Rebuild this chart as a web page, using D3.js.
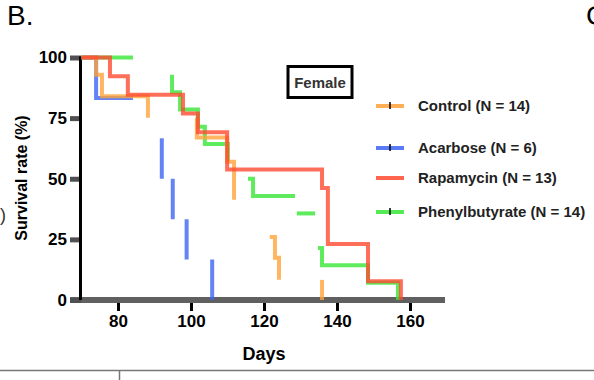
<!DOCTYPE html>
<html>
<head>
<meta charset="utf-8">
<script src="https://cdn.jsdelivr.net/npm/d3@7"></script>
<style>
  body { margin: 0; background: #fff; }
  svg { display: block; font-family: "Liberation Sans", Arial, sans-serif; }
</style>
</head>
<body>
<svg width="594" height="380"></svg>
<script>
var groups = ["Control (N = 14)", "Acarbose (N = 6)", "Rapamycin (N = 13)", "Phenylbutyrate (N = 14)"];
var censorMark = [true, true, false, true];
var xTicks = [80, 100, 120, 140, 160];
var yTicks = [0, 25, 50, 75, 100];

// step days and survival (%) right after each step
var controlDays = [74.0, 75.6, 88.2, 101.6, 109.9, 111.8, 118.0, 123.0, 124.1, 135.9];
var controlSurv = [92.9, 84.0, 75.2, 67.0, 57.0, 41.3, 26.0, 17.4, 8.3, 0];
var controlShown = [[70, 88.2], [101.6, 111.8], [121.6, 124.1], [135.9, 135.9]];

var acarboseDays = [74.0, 88.0, 92.0, 95.0, 98.8, 105.8];
var acarboseSurv = [83.3, 66.7, 50, 33.3, 16.7, 0];
var acarboseShown = [[70, 84.1], [92.0, 92.0], [95.0, 95.0], [98.8, 98.8], [105.8, 105.8]];

var rapaDays = [77.8, 82.7, 97.8, 101.9, 109.9, 135.9, 137.5, 148.5, 157.5];
var rapaSurv = [92.3, 84.6, 76.9, 69.2, 53.8, 46.2, 23.1, 7.7, 0];
var rapaShown = [[70, 157.5]];

var phenylDays = [86.0, 94.8, 97.0, 101.9, 103.8, 110.1, 114.0, 117.0, 128.7, 134.2, 135.9, 148.5, 156.7];
var phenylSurv = [92.9, 85.7, 78.6, 71.4, 64.3, 57.1, 50, 42.9, 35.7, 21.4, 14.3, 7.1, 0];
var phenylShown = [[70, 84.1], [94.8, 110.1], [115.6, 128.5], [129.0, 134.0], [134.8, 156.7]];

var colors = ["#ffa23a", "#3d64f2", "#ff4a30", "#36e636"];

var series = [
  { days: controlDays, surv: controlSurv, shown: controlShown },
  { days: acarboseDays, surv: acarboseSurv, shown: acarboseShown },
  { days: rapaDays, surv: rapaSurv, shown: rapaShown },
  { days: phenylDays, surv: phenylSurv, shown: phenylShown }
];
var drawOrder = [3, 1, 0, 2];

var svg = d3.select("svg");

var x = d3.scaleLinear().domain([70, 170]).range([81.5, 446.5]),
  y = d3.scaleLinear().domain([0, 100]).range([300, 57.5]);

// survival after t, and just before t
function survAt(s, t) {
  var v = 100;
  s.days.forEach(function(d, i) { if (d <= t) v = s.surv[i]; });
  return v;
}
function survBefore(s, t) {
  var v = 100;
  s.days.forEach(function(d, i) { if (d < t) v = s.surv[i]; });
  return v;
}
function piece(s, r) {
  var pts = [[r[0], survBefore(s, r[0])]];
  s.days.forEach(function(d) {
    if (d >= r[0] && d <= r[1]) {
      pts.push([d, survBefore(s, d)]);
      pts.push([d, survAt(s, d)]);
    }
  });
  pts.push([r[1], survAt(s, r[1])]);
  return pts;
}

var line = d3.line()
  .x(function(d) { return x(d[0]); })
  .y(function(d) { return y(d[1]); });

// axes
svg.append("line")
  .attr("x1", 70).attr("x2", 445)
  .attr("y1", y(0)).attr("y2", y(0))
  .style("stroke", "#606060").style("stroke-width", 6);

var gx = svg.append("g")
  .attr("transform", "translate(0," + (y(0) + 3) + ")")
  .call(d3.axisBottom(x).tickValues(xTicks).tickSize(8).tickFormat(d3.format("d")));
gx.select(".domain").remove();
gx.selectAll(".tick line").style("stroke", "#000").style("stroke-width", 3);
gx.selectAll(".tick text")
  .attr("y", 12)
  .style("font-size", "17px").style("font-weight", "bold")
  .style("font-family", "Liberation Sans, Arial, sans-serif").style("fill", "#000");

var gy = svg.append("g")
  .attr("transform", "translate(81,0)")
  .call(d3.axisLeft(y).tickValues(yTicks).tickSize(11));
gy.select(".domain").remove();
gy.selectAll(".tick line").style("stroke", "#505050").style("stroke-width", 5);
gy.selectAll(".tick text")
  .attr("x", -14)
  .style("font-size", "17px").style("font-weight", "bold")
  .style("font-family", "Liberation Sans, Arial, sans-serif").style("fill", "#000");

svg.append("line")
  .attr("x1", 80.5).attr("x2", 80.5)
  .attr("y1", y(100) - 1).attr("y2", y(0))
  .style("stroke", "#000").style("stroke-width", 3);

// curves
drawOrder.forEach(function(i) {
  var s = series[i];
  svg.append("g").selectAll("path")
    .data(s.shown.map(function(r) { return piece(s, r); }))
    .enter().append("path")
    .attr("d", line)
    .style("fill", "none")
    .style("stroke", colors[i])
    .style("stroke-width", 4)
    .style("stroke-opacity", 0.8)
    .style("stroke-linejoin", "miter");
});

// axis titles
svg.append("text")
  .attr("transform", "translate(27,178) rotate(-90)")
  .attr("text-anchor", "middle")
  .style("font-size", "16px").style("font-weight", "bold")
  .text("Survival rate (%)");

svg.append("text")
  .attr("x", 264).attr("y", 360)
  .attr("text-anchor", "middle")
  .style("font-size", "18px").style("font-weight", "bold")
  .text("Days");

// legend
svg.append("rect")
  .attr("x", 288).attr("y", 66.5).attr("width", 64).attr("height", 31)
  .style("fill", "#fff").style("stroke", "#000").style("stroke-width", 3);
svg.append("text")
  .attr("x", 320).attr("y", 88)
  .attr("text-anchor", "middle")
  .style("font-size", "15px").style("font-weight", "bold").style("fill", "#333")
  .text("Female");

var rowY = [106, 148, 178, 212];
var leg = svg.selectAll(".legend")
  .data(groups)
  .enter().append("g")
  .attr("class", "legend")
  .attr("transform", function(d, i) { return "translate(376," + rowY[i] + ")"; });

leg.append("line")
  .attr("x1", 0).attr("x2", 28)
  .style("stroke", function(d, i) { return colors[i]; })
  .style("stroke-width", 4)
  .style("stroke-opacity", 0.85);
leg.filter(function(d, i) { return censorMark[i]; })
  .append("line")
  .attr("x1", 14).attr("x2", 14).attr("y1", -4).attr("y2", 3)
  .style("stroke", "#000").style("stroke-width", 1.5);
leg.append("text")
  .attr("x", 42).attr("y", 5)
  .style("font-size", "15px").style("font-weight", "bold").style("fill", "#222")
  .text(function(d) { return d; });

// panel letters and frame pieces
svg.append("text").attr("x", 7).attr("y", 25)
  .style("font-size", "28px").text("B.");
svg.append("text").attr("x", 586).attr("y", 25)
  .style("font-size", "28px").text("C");
svg.append("text").attr("x", 0).attr("y", 221)
  .style("font-size", "18px").style("fill", "#333").text(")");

svg.append("line")
  .attr("x1", 0).attr("x2", 594).attr("y1", 370.5).attr("y2", 370.5)
  .style("stroke", "#777").style("stroke-width", 1.5);
svg.append("line")
  .attr("x1", 119.5).attr("x2", 119.5).attr("y1", 371).attr("y2", 380)
  .style("stroke", "#777").style("stroke-width", 1.5);
</script>
</body>
</html>
